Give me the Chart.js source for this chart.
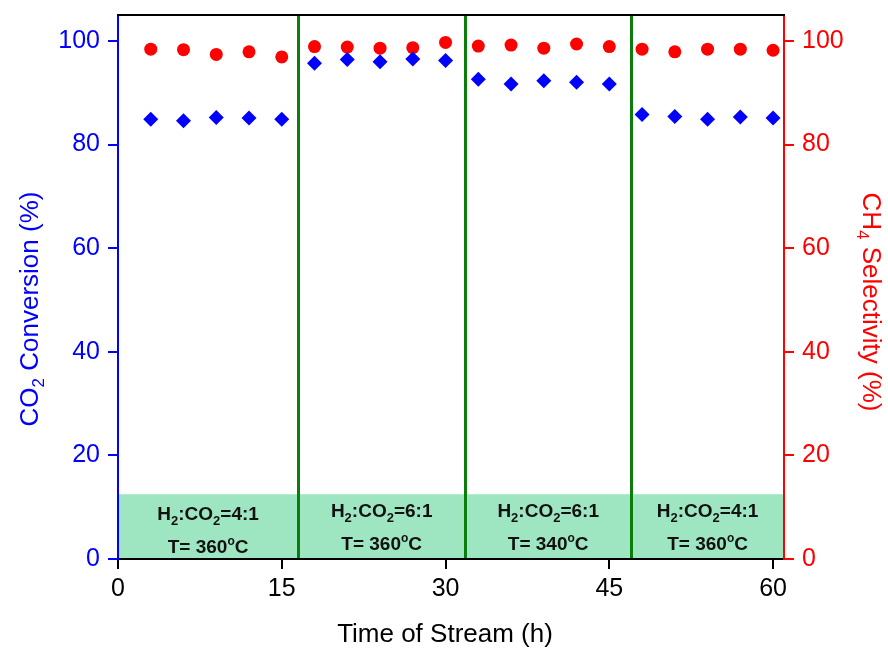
<!DOCTYPE html>
<html>
<head>
<meta charset="utf-8">
<script src="https://cdn.jsdelivr.net/npm/chart.js@4.4.1/dist/chart.umd.min.js"></script>
<style>
  html, body { margin: 0; padding: 0; background: #ffffff; }
  #wrap { width: 888px; height: 648px; position: relative; }
</style>
</head>
<body>
<div id="wrap"><canvas id="c" width="888" height="648"></canvas></div>
<script>
// ---- data ----
const timeHours = [3, 6, 9, 12, 15, 18, 21, 24, 27, 30, 33, 36, 39, 42, 45, 48, 51, 54, 57, 60];
const co2Conversion = [84.9, 84.6, 85.2, 85.1, 84.9, 95.7, 96.4, 96.0, 96.5, 96.2, 92.6, 91.7, 92.3, 92.0, 91.7, 85.8, 85.4, 84.9, 85.3, 85.1];
const ch4Selectivity = [98.4, 98.3, 97.4, 97.9, 96.9, 98.9, 98.8, 98.6, 98.7, 99.7, 99.0, 99.2, 98.6, 99.4, 98.9, 98.4, 97.9, 98.4, 98.4, 98.2];
const xTicks = [0, 15, 30, 45, 60];
const yTicks = [0, 20, 40, 60, 80, 100];
const dividerTimes = [16.5, 31.8, 47.0];
const segmentStarts = [0, 16.5, 31.8, 47.0];
const segmentEnds = [16.5, 31.8, 47.0, 61];
const segmentRatio = ['4:1', '6:1', '6:1', '4:1'];
const segmentTemp = ['360', '360', '340', '360'];
const boxTopValue = 12.5;

// ---- styles / layout ----
const FONT = '"Liberation Sans", Arial, Helvetica, sans-serif';
const BLUE = '#0000ff', RED = '#ff0000', BLACK = '#000000';
const GREEN_LINE = '#0a7d0a', BOX_FILL = '#9ee6c1';
const line1Base = [520, 517, 517, 517];
const line2Base = [553, 550, 550, 550];

function drawRich(ctx, parts, cx, baseline, weight) {
  // parts: [text, fontSize, dy]
  let total = 0;
  parts.forEach(p => { ctx.font = weight + p[1] + 'px ' + FONT; p.w = ctx.measureText(p[0]).width; total += p.w; });
  let x = cx - total / 2;
  ctx.textAlign = 'left';
  ctx.textBaseline = 'alphabetic';
  parts.forEach(p => { ctx.font = weight + p[1] + 'px ' + FONT; ctx.fillText(p[0], x, baseline + p[2]); x += p.w; });
}

const decorPlugin = {
  id: 'decor',
  beforeDraw(chart) {
    const ctx = chart.ctx, xs = chart.scales.x, ys = chart.scales.y, ca = chart.chartArea;
    ctx.save();
    const yTop = ys.getPixelForValue(boxTopValue), yBot = ys.getPixelForValue(0);
    for (let i = 0; i < segmentStarts.length; i++) {
      const x0 = xs.getPixelForValue(segmentStarts[i]), x1 = xs.getPixelForValue(segmentEnds[i]);
      ctx.fillStyle = BOX_FILL;
      ctx.fillRect(x0, yTop, x1 - x0, yBot - yTop);
      ctx.fillStyle = '#111111';
      const cx = (x0 + x1) / 2;
      drawRich(ctx, [['H', 19, 0], ['2', 13, 5], [':CO', 19, 0], ['2', 13, 5], ['=' + segmentRatio[i], 19, 0]], cx, line1Base[i], 'bold ');
      drawRich(ctx, [['T= ' + segmentTemp[i], 19, 0], ['o', 12, -8], ['C', 19, 0]], cx, line2Base[i], 'bold ');
    }
    ctx.strokeStyle = GREEN_LINE;
    ctx.lineWidth = 3;
    dividerTimes.forEach(t => {
      const px = Math.round(xs.getPixelForValue(t)) + 0.5;
      ctx.beginPath(); ctx.moveTo(px, ca.top); ctx.lineTo(px, ca.bottom); ctx.stroke();
    });
    ctx.restore();
  },
  afterDraw(chart) {
    const ctx = chart.ctx, ca = chart.chartArea;
    ctx.save();
    ctx.strokeStyle = BLACK; ctx.lineWidth = 2;
    ctx.beginPath(); ctx.moveTo(ca.left - 1, ca.top); ctx.lineTo(ca.right + 1, ca.top); ctx.stroke();
    // x title
    ctx.fillStyle = BLACK;
    drawRich(ctx, [['Time of Stream (h)', 26, 0]], 445, 642, '');
    // left title
    ctx.save();
    ctx.translate(38, 309);
    ctx.rotate(-Math.PI / 2);
    ctx.fillStyle = BLUE;
    drawRich(ctx, [['CO', 26, 0], ['2', 17, 6], [' Conversion (%)', 26, 0]], 0, 0, '');
    ctx.restore();
    // right title
    ctx.save();
    ctx.translate(863, 302);
    ctx.rotate(Math.PI / 2);
    ctx.fillStyle = RED;
    drawRich(ctx, [['CH', 26, 0], ['4', 17, 6], [' Selectivity (%)', 26, 0]], 0, 0, '');
    ctx.restore();
    ctx.restore();
  }
};

function zeroPad(s) { s.paddingTop = 0; s.paddingBottom = 0; s.paddingLeft = 0; s.paddingRight = 0; }

new Chart(document.getElementById('c'), {
  type: 'scatter',
  data: {
    datasets: [
      {
        label: 'CO2 Conversion',
        data: timeHours.map((t, i) => ({ x: t, y: co2Conversion[i] })),
        yAxisID: 'y',
        pointStyle: 'rectRot',
        pointRadius: 7.5,
        backgroundColor: BLUE,
        borderColor: BLUE,
        borderWidth: 0
      },
      {
        label: 'CH4 Selectivity',
        data: timeHours.map((t, i) => ({ x: t, y: ch4Selectivity[i] })),
        yAxisID: 'y2',
        pointStyle: 'circle',
        pointRadius: 6.5,
        backgroundColor: RED,
        borderColor: RED,
        borderWidth: 0
      }
    ]
  },
  options: {
    responsive: false,
    animation: false,
    devicePixelRatio: 1,
    layout: { padding: { top: 15, left: 0, right: 0, bottom: 0 } },
    plugins: { legend: { display: false }, tooltip: { enabled: false } },
    scales: {
      x: {
        type: 'linear', position: 'bottom', min: 0, max: 61,
        afterBuildTicks: s => { s.ticks = xTicks.map(v => ({ value: v })); },
        afterFit: s => { s.height = 89; zeroPad(s); },
        ticks: { color: BLACK, font: { family: FONT, size: 25 }, padding: 5, maxRotation: 0 },
        grid: { drawOnChartArea: false, drawTicks: true, tickLength: 10, color: BLACK, lineWidth: 2 },
        border: { display: true, color: BLACK, width: 2 }
      },
      y: {
        type: 'linear', position: 'left', min: 0, max: 105,
        afterBuildTicks: s => { s.ticks = yTicks.map(v => ({ value: v })); },
        afterFit: s => { s.width = 118; zeroPad(s); },
        ticks: { color: BLUE, font: { family: FONT, size: 25 }, padding: 8 },
        grid: { drawOnChartArea: false, drawTicks: true, tickLength: 10, color: BLUE, lineWidth: 2 },
        border: { display: true, color: BLUE, width: 2 }
      },
      y2: {
        type: 'linear', position: 'right', min: 0, max: 105,
        afterBuildTicks: s => { s.ticks = yTicks.map(v => ({ value: v })); },
        afterFit: s => { s.width = 104; zeroPad(s); },
        ticks: { color: RED, font: { family: FONT, size: 25 }, padding: 8 },
        grid: { drawOnChartArea: false, drawTicks: true, tickLength: 10, color: RED, lineWidth: 2 },
        border: { display: true, color: RED, width: 2 }
      }
    }
  },
  plugins: [decorPlugin]
});
</script>
</body>
</html>
